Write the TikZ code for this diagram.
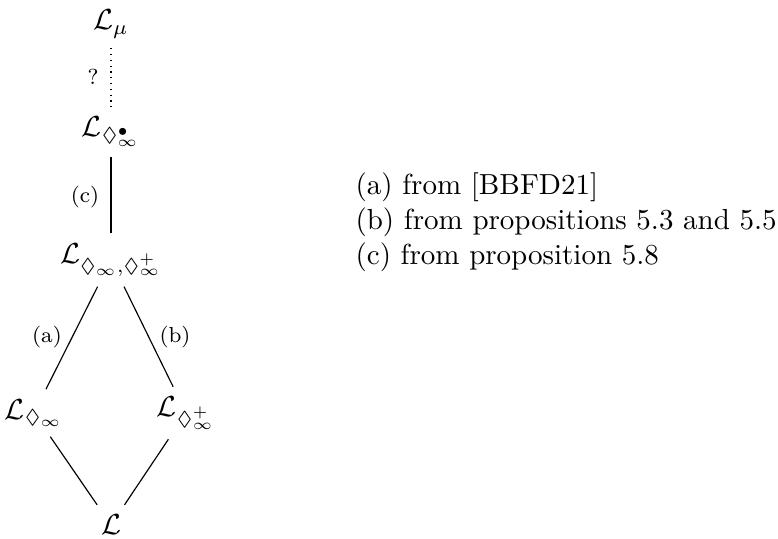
\documentclass[tikz,border=0pt]{standalone}
\usepackage{amssymb}
\begin{document}
\begin{tikzpicture}[x=0.3448pt,y=-0.3448pt,
  lat/.style={inner sep=3.33pt},
  edgelbl/.style={font=\fontsize{7.5}{9}\selectfont,inner sep=1pt},
  conn/.style={line width=0.4pt},
  dotconn/.style={line width=0.4pt,dash pattern=on 0.4pt off 1.6pt}]
\useasboundingbox (0,0) rectangle (778,539);
\node[lat] (mu) at (111,24) {$\mathcal{L}_\mu$};
\node[lat] (db) at (111,132) {$\mathcal{L}_{\Diamond^{\bullet}_{\infty}}$};
\node[lat] (both) at (111,260) {$\mathcal{L}_{\Diamond_{\infty},\Diamond^{+}_{\infty}}$};
\node[lat] (left) at (34,413) {$\mathcal{L}_{\Diamond_{\infty}}$};
\node[lat] (right) at (186,413) {$\mathcal{L}_{\Diamond^{+}_{\infty}}$};
\node[lat] (bot) at (111,525) {$\mathcal{L}$};
\draw[dotconn] (mu) -- (db);
\node[edgelbl] (q) at (93,77) {?};
\draw[conn] (db) -- (both);
\node[edgelbl] (lc) at (85,197) {(c)};
\draw[conn] (both) -- (left);
\draw[conn] (both) -- (right);
\node[edgelbl] (la) at (47,337) {(a)};
\node[edgelbl] (lb) at (175,337) {(b)};
\draw[conn] (left) -- (bot);
\draw[conn] (right) -- (bot);
\node[anchor=west,align=left,inner sep=0pt] (notes) at (355,222) {(a) from [BBFD21]\\(b) from propositions 5.3 and 5.5\\(c) from proposition 5.8};
\end{tikzpicture}
\end{document}
